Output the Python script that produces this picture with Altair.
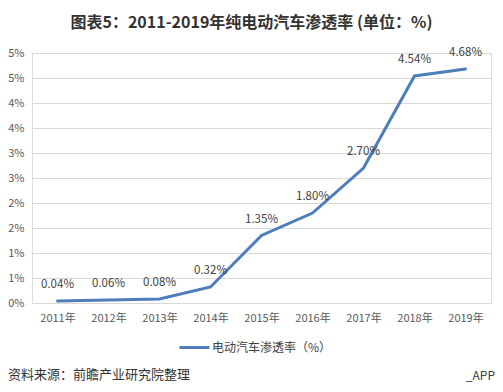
import altair as alt
import pandas as pd

years = ["2011年", "2012年", "2013年", "2014年", "2015年", "2016年", "2017年", "2018年", "2019年"]
values = [0.04, 0.06, 0.08, 0.32, 1.35, 1.80, 2.70, 4.54, 4.68]
labels = ["0.04%", "0.06%", "0.08%", "0.32%", "1.35%", "1.80%", "2.70%", "4.54%", "4.68%"]
y_ticks = [0, 0.5, 1, 1.5, 2, 2.5, 3, 3.5, 4, 4.5, 5]
series_name = "电动汽车渗透率（%）"
title_text = "图表5：2011-2019年纯电动汽车渗透率 (单位：%)"
source_text = ["资料来源：前瞻产业研究院整理"]
app_text = ["_APP"]

FONT = "Noto Sans CJK SC"
LINE_COLOR = "#4d7ebb"

df = pd.DataFrame({"year": years, "value": values, "label": labels, "series": series_name})

x_enc = alt.X("year:N", sort=years, scale=alt.Scale(paddingInner=0, paddingOuter=0),
              axis=alt.Axis(title=None, labelAngle=0, ticks=False, domain=False, grid=False,
                            labelPadding=9, labelFontSize=11, labelColor="#595959", labelFont=FONT))
y_enc = alt.Y("value:Q", scale=alt.Scale(domain=[0, 5], nice=False),
              axis=alt.Axis(title=None, values=y_ticks, labelExpr="round(datum.value) + '%'",
                            labelOverlap=False, labelBound=False, tickCount=11,
                            ticks=False, domain=False, gridColor="#d9d9d9", gridWidth=1,
                            labelPadding=8, labelFontSize=11, labelColor="#595959", labelFont=FONT))

base = alt.Chart(df)

line = base.mark_line(strokeWidth=3, strokeCap="round").encode(
    x=x_enc, y=y_enc,
    color=alt.Color("series:N", scale=alt.Scale(range=[LINE_COLOR]),
                    legend=alt.Legend(title=None, orient="none", legendX=146, legendY=278,
                                      symbolType="stroke", symbolStrokeWidth=3, symbolSize=900,
                                      labelFontSize=12, labelColor="#404040", labelFont=FONT,
                                      labelOffset=1))
)

text = base.mark_text(dy=-16, fontSize=11.5, color="#404040", font=FONT).encode(
    x=x_enc, y=y_enc, text="label:N"
)

src = alt.Chart(pd.DataFrame({"t": source_text})).mark_text(
    align="left", baseline="middle", fontSize=13, color="#333333", font=FONT
).encode(x=alt.value(-24), y=alt.value(322), text="t:N")

app = alt.Chart(pd.DataFrame({"t": app_text})).mark_text(
    align="right", baseline="middle", fontSize=12, color="#404040", font=FONT
).encode(x=alt.value(463), y=alt.value(323), text="t:N")

chart = alt.layer(line, text, src, app).properties(
    width=459, height=250,
    title=alt.TitleParams(title_text, font=FONT, fontSize=16, fontWeight="bold", color="#333333",
                          anchor="middle", dx=-10, offset=16),
    padding={"left": 24, "top": 45, "right": 4, "bottom": 81},
    autosize=alt.AutoSizeParams(type="none"),
).configure_view(stroke=None).configure(background="white")

chart.save("out.html", embed_options={"renderer": "svg", "actions": False})
